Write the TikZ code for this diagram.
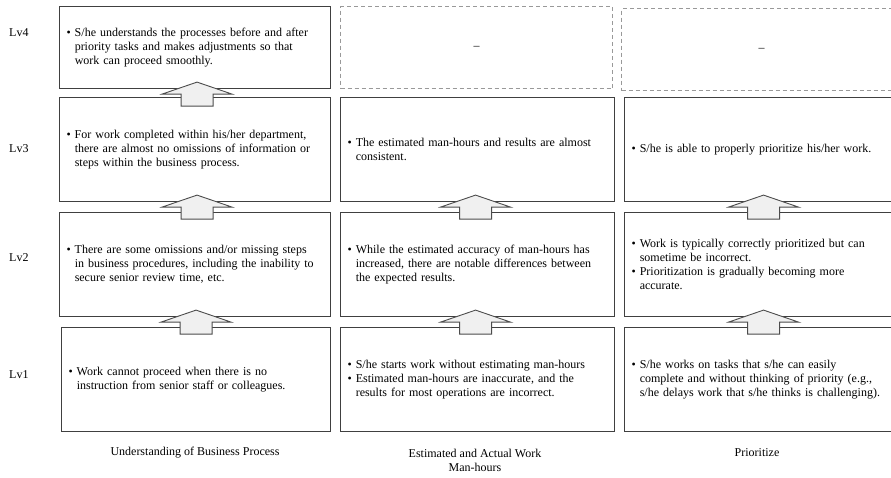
\documentclass[tikz,border=0pt]{standalone}
\usepackage{fontspec}
\setmainfont{Liberation Serif}
\newcommand\hg{\hphantom{\textbullet\ }}
\newcommand\blockarr[2]{%
  \draw[barrow] ([xshift=#2pt]#1.south) ++(0,-7) -- ++(35,12) -- ++(-19,0) -- ++(0,12)
    -- ++(-32,0) -- ++(0,-12) -- ++(-19,0) -- cycle;}
\begin{document}
\begin{tikzpicture}[x=1pt,y=-1pt,
  every node/.style={font=\fontsize{12}{14}\selectfont},
  box/.style={draw=black!75, line width=1.1pt, rectangle, anchor=north west,
    inner xsep=7pt, inner ysep=0pt, align=left},
  dbox/.style={draw=black!40, line width=1pt, dashed, dash pattern=on 4pt off 3pt,
    rectangle, anchor=north west, inner sep=0pt, align=center},
  barrow/.style={draw=black!70, line width=0.9pt, fill=black!6, line join=miter},
  lv/.style={anchor=west, inner sep=0pt},
  colcap/.style={align=center, inner sep=0pt}
]
\useasboundingbox (0,0) rectangle (891,477);
\fill[white] (0,0) rectangle (891,477);

% level labels
\node[lv] (l4) at (9,33) {Lv4};
\node[lv] (l3) at (9,149) {Lv3};
\node[lv] (l2) at (9,258) {Lv2};
\node[lv] (l1) at (9,375) {Lv1};

% column 1
\node[box, text width=257pt, minimum height=82pt] (a4) at (59,6)
  {\textbullet\ S/he understands the processes before and after\\
   \hg priority tasks and makes adjustments so that\\
   \hg work can proceed smoothly.};
\node[box, text width=257pt, minimum height=104pt] (a3) at (59,97)
  {\textbullet\ For work completed within his/her department,\\
   \hg there are almost no omissions of information or\\
   \hg steps within the business process.};
\node[box, text width=257pt, minimum height=104pt] (a2) at (59,212)
  {\textbullet\ There are some omissions and/or missing steps\\
   \hg in business procedures, including the inability to\\
   \hg secure senior review time, etc.};
\node[box, text width=255pt, minimum height=104pt] (a1) at (61,327)
  {\textbullet\ Work cannot proceed when there is no\\
   \hg instruction from senior staff or colleagues.};

% column 2
\node[dbox, minimum width=272pt, minimum height=82pt] (b4) at (340,6) {--};
\node[box, text width=260pt, minimum height=104pt] (b3) at (340,97)
  {\textbullet\ The estimated man-hours and results are almost\\
   \hg consistent.};
\node[box, text width=260pt, minimum height=104pt] (b2) at (340,212)
  {\textbullet\ While the estimated accuracy of man-hours has\\
   \hg increased, there are notable differences between\\
   \hg the expected results.};
\node[box, text width=260pt, minimum height=104pt] (b1) at (340,327)
  {\textbullet\ S/he starts work without estimating man-hours\\
   \textbullet\ Estimated man-hours are inaccurate, and the\\
   \hg results for most operations are incorrect.};

% column 3
\node[dbox, minimum width=280pt, minimum height=82pt] (c4) at (621,8) {--};
\node[box, text width=264pt, minimum height=104pt] (c3) at (624,97)
  {\textbullet\ S/he is able to properly prioritize his/her work.};
\node[box, text width=264pt, minimum height=104pt] (c2) at (624,212)
  {\textbullet\ Work is typically correctly prioritized but can\\
   \hg sometime be incorrect.\\
   \textbullet\ Prioritization is gradually becoming more\\
   \hg accurate.};
\node[box, text width=264pt, minimum height=104pt] (c1) at (624,327)
  {\textbullet\ S/he works on tasks that s/he can easily\\
   \hg complete and without thinking of priority (e.g.,\\
   \hg s/he delays work that s/he thinks is challenging).};

% block arrows
\blockarr{a4}{2}
\blockarr{a3}{2}
\blockarr{a2}{1}
\blockarr{b3}{-2}
\blockarr{b2}{-2}
\blockarr{c3}{0}
\blockarr{c2}{0}

% column captions
\node[colcap] (ca) at (195,453) {Understanding of Business Process};
\node[colcap] (cb) at (475,460) {Estimated and Actual Work\\Man-hours};
\node[colcap] (cc) at (757,453) {Prioritize};
\end{tikzpicture}
\end{document}
